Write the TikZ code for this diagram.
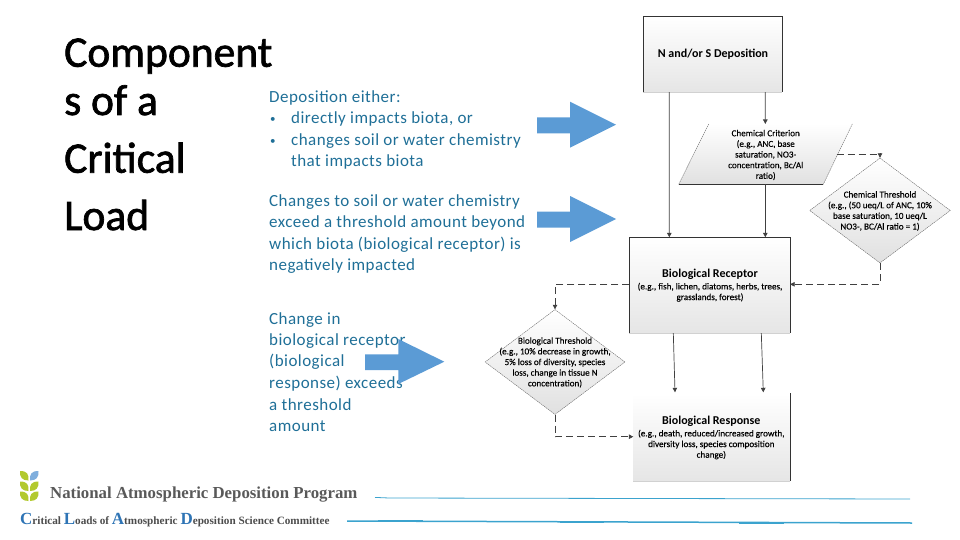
\documentclass[tikz,border=0pt]{standalone}
\usepackage{fontspec}
\setmainfont{Carlito}
\newfontfamily\bodyf{Carlito}[LetterSpace=2.7]
\newfontfamily\titlef{Carlito}[FakeBold=1.6]
\newfontfamily\smallf{Carlito}[FakeBold=0.3]
\newfontfamily\logof{Liberation Serif}
\usetikzlibrary{arrows.meta,calc,shapes.geometric}
\definecolor{bodytxt}{HTML}{1F6F97}
\definecolor{arrowblue}{HTML}{5B9BD5}
\definecolor{rulec}{HTML}{3BA3CE}
\definecolor{flowline}{HTML}{404040}
\definecolor{navy}{HTML}{2E74B5}
\definecolor{leafg}{HTML}{B2C92E}
\definecolor{leafb}{HTML}{7FAEDD}
\tikzset{
  x=1pt,y=-1pt,
  titletxt/.style={anchor=base west,inner sep=0pt,font=\titlef\fontsize{43.5}{44}\selectfont,text=black},
  bodyline/.style={anchor=base west,inner sep=0pt,font=\bodyf\fontsize{17}{18}\selectfont,text=bodytxt},
  bigarrow/.style={fill=arrowblue,draw=none},
  boxfill/.style={rectangle,top color=white,bottom color=black!10,draw=none,inner sep=0pt,anchor=north west},
  lbl/.style={align=center,inner sep=0pt,text=black},
  small/.style={font=\smallf\fontsize{9.1}{10.65}\selectfont},
  head/.style={font=\bfseries\fontsize{12}{13}\selectfont},
  flow/.style={draw=flowline,line width=0.7pt,-{Triangle[length=4.5pt,width=4.5pt]}},
  dflow/.style={flow,dash pattern=on 7pt off 4pt},
  edgeline/.style={draw=black!80,line width=0.6pt},
  shadowline/.style={draw=black!18,line width=1pt},
  diam/.style={diamond,top color=white,bottom color=black!12,draw=black!65,line width=0.35pt,dash pattern=on 1.5pt off 0.7pt,inner sep=0pt,minimum width=#1},
  leaf/.style={draw=none},
}
\begin{document}
\begin{tikzpicture}
\useasboundingbox (0,0) rectangle (960,540);
% Title
\node[titletxt] (t1) at (64,66.7) {Component};
\node[titletxt] (t2) at (64,115) {s of a};
\node[titletxt] (t3) at (64,172.7) {Critical};
\node[titletxt] (t4) at (64,230) {Load};
% Body
\node[bodyline] (b1) at (269,102.3) {Deposition either:};
\node[bodyline,font=\fontsize{11}{12}\selectfont] (b2) at (270,123) {•};
\node[bodyline] (b2t) at (291,124) {directly impacts biota, or};
\node[bodyline,font=\fontsize{11}{12}\selectfont] (b3) at (270,144.7) {•};
\node[bodyline] (b3t) at (291,145.7) {changes soil or water chemistry};
\node[bodyline] (b4t) at (291,167) {that impacts biota};
\node[bodyline] (c1) at (269,206) {Changes to soil or water chemistry};
\node[bodyline] (c2) at (269,227.3) {exceed a threshold amount beyond};
\node[bodyline] (c3) at (269,249) {which biota (biological receptor) is};
\node[bodyline] (c4) at (269,270.7) {negatively impacted};
\node[bodyline] (d1) at (269,324) {Change in};
\node[bodyline] (d2) at (269,345.7) {biological receptor};
\node[bodyline] (d3) at (269,366.7) {(biological};
\node[bodyline] (d4) at (269,388.3) {response) exceeds};
\node[bodyline] (d5) at (269,410) {a threshold};
\node[bodyline] (d6) at (269,431.7) {amount};
% Big arrows
\fill[bigarrow] (537,117.3) -- (570,117.3) -- (570,101.7) -- (616,124.7) -- (570,147.7) -- (570,133.3) -- (537,133.3) -- cycle;
\fill[bigarrow] (537,211.5) -- (570,211.5) -- (570,196) -- (616,219) -- (570,242) -- (570,227.5) -- (537,227.5) -- cycle;
\fill[bigarrow] (365,354.3) -- (398.3,354.3) -- (398.3,339) -- (444.3,361.7) -- (398.3,384) -- (398.3,370) -- (365,370) -- cycle;
% Boxes
\node[boxfill,minimum width=138.2,minimum height=75.7] (dep) at (643.4,16) {};
\draw[shadowline] (dep.south west) -- (dep.south east);
\draw[edgeline] (dep.south west) -- (dep.north west) -- (dep.north east) -- (dep.south east);
\node[lbl,font=\bfseries\fontsize{12}{13}\selectfont] (depl) at (713,54.5) {N and/or S Deposition};

\node[boxfill,minimum width=160.4,minimum height=95.4] (rec) at (629.3,237.3) {};
\draw[shadowline] (rec.south west) -- (rec.south east);
\draw[edgeline] (rec.south west) -- (rec.north west) -- (rec.north east) -- (rec.south east);
\node[lbl,head] (recl) at (710,274) {Biological Receptor};
\node[lbl,small] (recs) at (710,292.2) {(e.g., fish, lichen, diatoms, herbs, trees,\\grasslands, forest)};

\node[boxfill,minimum width=156.4,minimum height=87.7] (res) at (633.3,393.3) {};
\draw[shadowline] (res.south west) -- (res.south east);
\draw[edgeline] (res.north east) -- (res.south east);
\node[lbl,head] (resl) at (711.3,421) {Biological Response};
\node[lbl,small] (ress) at (711.3,444.5) {(e.g., death, reduced/increased growth,\\diversity loss, species composition\\change)};

% Parallelogram
\coordinate (pbl) at (678.7,184.3);
\coordinate (ptl) at (708.7,124);
\coordinate (ptr) at (852.3,124);
\coordinate (pbr) at (823.3,184.3);
\coordinate (pb) at (765.3,184.3);
\coordinate (pt) at (765.3,124);
\coordinate (pr) at (836.7,154.3);
\path[top color=white,bottom color=black!12] (pbl) -- (ptl) -- (ptr) -- (pbr) -- cycle;
\draw[draw=black!65,line width=0.35pt,dash pattern=on 1.5pt off 0.7pt] (pbl) -- (ptl) (ptr) -- (pbr);
\draw[edgeline] (pbl) -- (pbr);
\node[lbl,small] (critl) at (765.7,155) {Chemical Criterion\\(e.g., ANC, base\\saturation, NO3-\\concentration, Bc/Al\\ratio)};

% Diamonds
\node[diam=140.7,minimum height=105,shape aspect=1.34] (chem) at (880,210.5) {};
\node[lbl,small] (chel) at (880,211) {Chemical Threshold\\(e.g., (50 ueq/L of ANC, 10\%\\base saturation, 10 ueq/L\\NO3-, BC/Al ratio = 1)};
\node[diam=140,minimum height=105,shape aspect=1.33] (bio) at (555,362) {};
\node[lbl,small] (biol) at (555,362.5) {Biological Threshold\\(e.g., 10\% decrease in growth,\\5\% loss of diversity, species\\loss, change in tissue N\\concentration)};

% Connectors
\draw[flow] ($(dep.south west)+(25.9,0)$) -- ($(rec.north west)+(40,0)$);
\draw[flow] ($(dep.south west)+(121.9,0)$) -- (pt);
\draw[flow] (pb) -- (pb |- rec.north);
\draw[dflow] (pr) -- (pr -| chem.north) -- (chem.north);
\coordinate (recr) at ($(rec.north east)+(0,47)$);
\coordinate (recm) at ($(rec.north west)+(0,47)$);
\draw[dflow] (chem.south) -- (chem.south |- recr) -- (recr);
\draw[dflow] (recm) -- (recm -| bio.north) -- (bio.north);
\coordinate (resm) at ($(res.north west)+(0,43.4)$);
\draw[dflow] (bio.south) -- (bio.south |- resm) -- (resm);
\draw[flow] ($(rec.south west)+(44,0)$) -- ($(res.north west)+(41.7,-1)$);
\draw[flow] ($(rec.south west)+(132,0)$) -- ($(res.north west)+(130,-1)$);

% Rules
\coordinate (r1a) at (375,497.4);
\coordinate (r1m) at (389,498);
\coordinate (r1b) at (910,499);
\draw[rulec,line width=0.8pt] (r1a) -- (r1m) -- (r1b);
\coordinate (r2a) at (347,521);
\coordinate (r2b) at (912,523);
\draw[rulec,line width=1.5pt] (r2a) -- (r2b);
\draw[rulec,line width=2.2pt] (378,521.2) -- (423,521.2);
\draw[rulec,line width=2.2pt] (560,522.3) -- (604,522.3);
\draw[rulec,line width=2.2pt] (739,523) -- (784,523);

% Logo
\foreach \yy in {471,481.5,491.5}{
  \fill[leafg,leaf] (20,\yy) .. controls (27,\yy) and (29,\yy+3) .. (28.5,\yy+9.5) .. controls (22,\yy+9.5) and (19.5,\yy+6) .. (20,\yy) -- cycle;
}
\foreach \yy in {481.5,491.5}{
  \fill[leafg,leaf] (38.5,\yy) .. controls (31.5,\yy) and (29.5,\yy+3) .. (30,\yy+9.5) .. controls (36.5,\yy+9.5) and (39,\yy+6) .. (38.5,\yy) -- cycle;
}
\fill[leafb,leaf] (38.5,471) .. controls (31.5,471) and (29.5,474) .. (30,480.5) .. controls (36.5,480.5) and (39,477) .. (38.5,471) -- cycle;
\node[anchor=west,inner sep=0pt,font=\logof\bfseries\fontsize{16.8}{17}\selectfont,text=black!65] (nadp) at (50,495) {National Atmospheric Deposition Program};
\node[anchor=west,inner sep=0pt,font=\logof\bfseries\fontsize{11.2}{12}\selectfont,text=black!70] (clad) at (20,520) {\textcolor{navy}{\fontsize{17}{17}\selectfont C}ritical \textcolor{navy}{\fontsize{17}{17}\selectfont L}oads of \textcolor{navy}{\fontsize{17}{17}\selectfont A}tmospheric \textcolor{navy}{\fontsize{17}{17}\selectfont D}eposition Science Committee};
\end{tikzpicture}
\end{document}
